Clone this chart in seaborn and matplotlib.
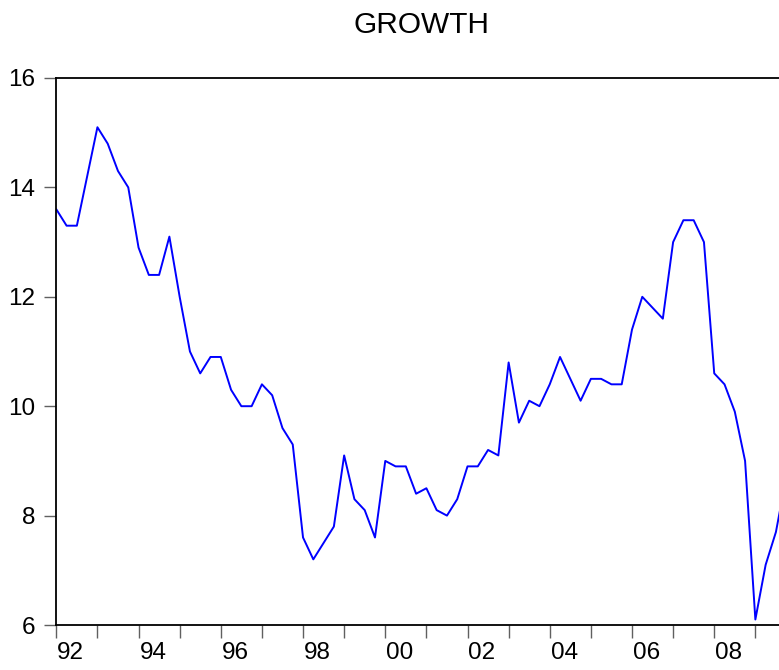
import matplotlib
matplotlib.use("Agg")
import matplotlib.pyplot as plt
import seaborn as sns
import pandas as pd

# Quarterly data 1992Q1 - 2009Q4
start_period = "1992Q1"
end_period = "2009Q4"
growth = [
    13.6, 13.3, 13.3, 14.2, 15.1, 14.8, 14.3, 14.0,
    12.9, 12.4, 12.4, 13.1, 12.0, 11.0, 10.6, 10.9,
    10.9, 10.3, 10.0, 10.0, 10.4, 10.2, 9.6, 9.3,
    7.6, 7.2, 7.5, 7.8, 9.1, 8.3, 8.1, 7.6,
    9.0, 8.9, 8.9, 8.4, 8.5, 8.1, 8.0, 8.3,
    8.9, 8.9, 9.2, 9.1, 10.8, 9.7, 10.1, 10.0,
    10.4, 10.9, 10.5, 10.1, 10.5, 10.5, 10.4, 10.4,
    11.4, 12.0, 11.8, 11.6, 13.0, 13.4, 13.4, 13.0,
    10.6, 10.4, 9.9, 9.0, 6.1, 7.1, 7.7, 8.7,
]
tick_years = list(range(1992, 2010))
label_years = list(range(1992, 2010, 2))
tick_labels = ["92", "94", "96", "98", "00", "02", "04", "06", "08"]
y_ticks = [6, 8, 10, 12, 14, 16]
title = "GROWTH"

periods = pd.period_range(start_period, end_period, freq="Q")
df = pd.DataFrame({
    "t": [p.year + (p.quarter - 1) / 4 for p in periods],
    "growth": growth,
})

sns.set_theme(style="ticks")
plt.rcParams["font.family"] = ["Liberation Sans", "DejaVu Sans"]

fig = plt.figure(figsize=(7.79, 6.70), dpi=100)
ax = fig.add_axes([56.3 / 779, 45 / 670, (786.2 - 56.3) / 779, (625 - 78) / 670])

sns.lineplot(data=df, x="t", y="growth", ax=ax, color="#0000ff", linewidth=1.4)

ax.set_xlim(df["t"].iloc[0], df["t"].iloc[-1])
ax.set_ylim(6, 16)
ax.set_yticks(y_ticks)
ax.set_yticklabels([str(v) for v in y_ticks])
ax.set_xticks(tick_years)
ax.set_xticklabels([])
ax.set_xticks([y + 0.35 for y in label_years], minor=True)
ax.set_xticklabels(tick_labels, minor=True)
ax.tick_params(axis="x", which="major", direction="out", length=9, width=1,
               color="#606060")
ax.tick_params(axis="x", which="minor", length=0, pad=12, labelsize=17.5,
               labelcolor="black")
ax.tick_params(axis="y", direction="out", length=9, width=1, color="#606060",
               pad=6, labelsize=17.5, labelcolor="black")
ax.set_xlabel("")
ax.set_ylabel("")
for s in ax.spines.values():
    s.set_visible(True)
    s.set_color("black")
    s.set_linewidth(1.3)

fig.text(421.5 / 779, 1 - 33 / 670, title, ha="center", va="baseline",
         fontsize=21.5, color="black")

fig.savefig("out.png", dpi=100, facecolor="white")
